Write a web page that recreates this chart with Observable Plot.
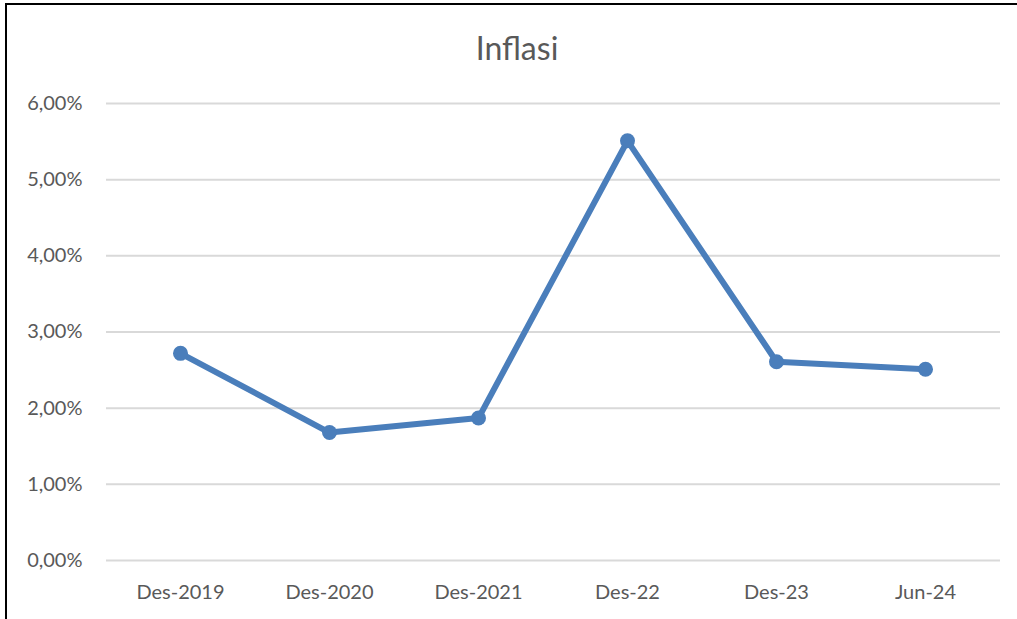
<!DOCTYPE html>
<html>
<head>
<meta charset="utf-8">
<script src="https://cdn.jsdelivr.net/npm/d3@7"></script>
<script src="https://cdn.jsdelivr.net/npm/@observablehq/plot@0.6"></script>
<style>
  html, body { margin: 0; padding: 0; background: #fff; }
  #wrap { position: relative; width: 1017px; height: 619px; overflow: hidden; background: #fff; }
  #frame { position: absolute; left: 5px; top: 3px; width: 1100px; height: 700px;
           border-left: 2px solid #000; border-top: 2px solid #000; pointer-events: none; }
  #title { position: absolute; left: 0; top: 28px; width: 1034px; text-align: center;
           font-family: Lato, "Open Sans", sans-serif; font-size: 32px; color: #595959; }
  #chart { position: absolute; left: 0; top: 0; }
</style>
</head>
<body>
<div id="wrap">
  <div id="chart"></div>
  <div id="frame"></div>
  <div id="title">Inflasi</div>
</div>
<script>
const categories = ["Des-2019", "Des-2020", "Des-2021", "Des-22", "Des-23", "Jun-24"];
const inflation = [2.72, 1.68, 1.87, 5.51, 2.61, 2.51];
const yTicks = [0, 1, 2, 3, 4, 5, 6];

const data = categories.map((c, i) => ({ period: c, value: inflation[i] }));
const fmt = d => d.toFixed(2).replace(".", ",") + "%";

const chart = Plot.plot({
  width: 1017,
  height: 619,
  marginLeft: 106,
  marginRight: 17,
  marginTop: 103,
  marginBottom: 59,
  style: { fontFamily: "Lato, 'Open Sans', sans-serif", fontSize: "20px", color: "#595959", background: "transparent" },
  x: { type: "point", domain: categories, range: [105.5, 999.5], padding: 0.5, round: false, label: null, tickSize: 0, tickPadding: 24 },
  y: { domain: [0, 6], ticks: yTicks, tickFormat: fmt, label: null, tickSize: 0, tickPadding: 24 },
  marks: [
    Plot.gridY(yTicks, { stroke: "#d9d9d9", strokeOpacity: 1, strokeWidth: 2 }),
    Plot.axisX({ tickSize: 0, tickPadding: 24, fill: "#595959", fontSize: 20 }),
    Plot.axisY({ ticks: yTicks, tickFormat: fmt, tickSize: 0, tickPadding: 24, fill: "#595959", fontSize: 20 }),
    Plot.line(data, { x: "period", y: "value", stroke: "#4a7ebb", strokeWidth: 6, strokeLinejoin: "round", strokeLinecap: "round" }),
    Plot.dot(data, { x: "period", y: "value", r: 7.5, fill: "#4a7ebb", stroke: "none" })
  ]
});
document.getElementById("chart").appendChild(chart);
</script>
</body>
</html>
